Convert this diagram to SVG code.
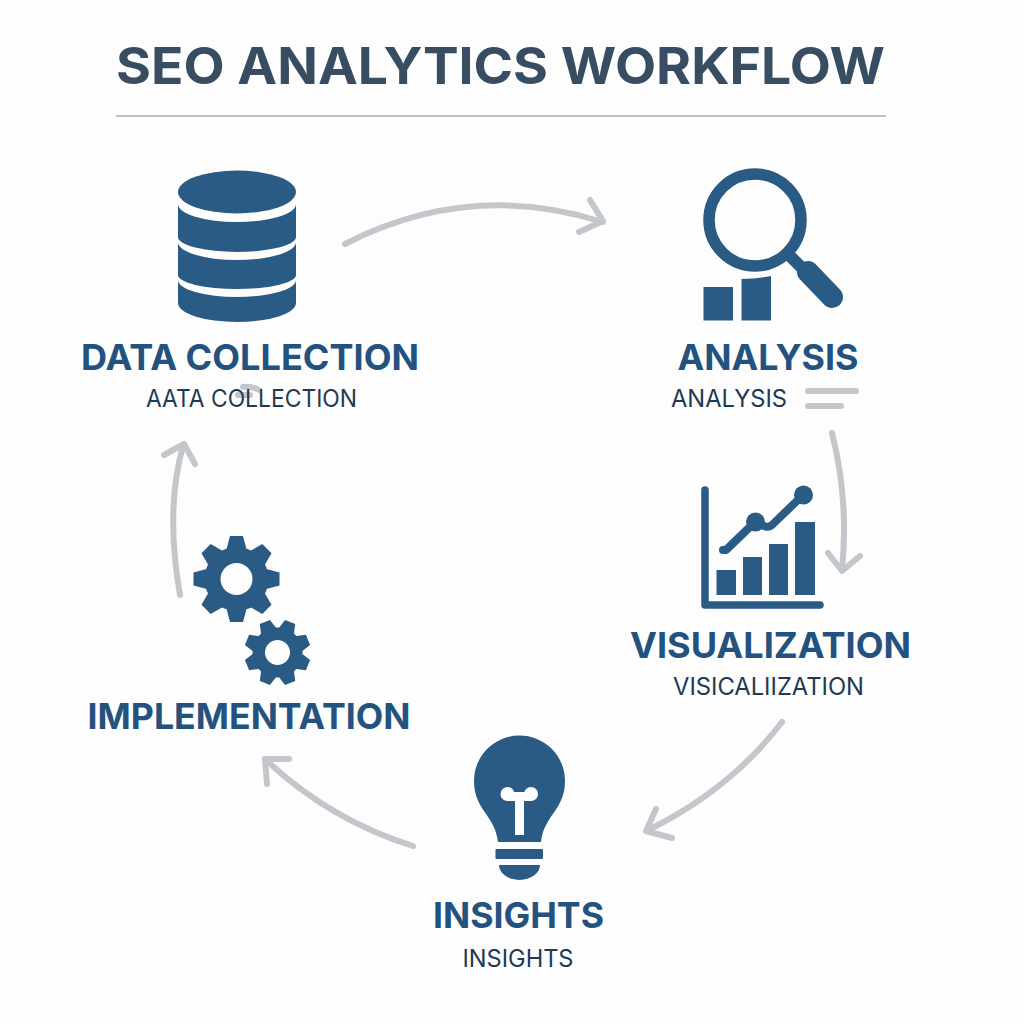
<svg xmlns="http://www.w3.org/2000/svg" xmlns:xlink="http://www.w3.org/1999/xlink" width="1024" height="1024" viewBox="0 0 1024 1024">
<style>
.ic{fill:#2a5b85}
.cut{fill:#fdfdfd}
.ln{fill:none;stroke:#2a5b85;stroke-linecap:round;stroke-linejoin:round}
.c{fill:none;stroke:#c3c7cc;stroke-width:6;stroke-linecap:round;stroke-linejoin:round}
.h{font-family:Inter,"Liberation Sans",sans-serif;font-weight:700;font-size:36px;fill:#24527f;text-anchor:middle}
.s{font-family:Inter,"Liberation Sans",sans-serif;font-weight:400;font-size:24px;fill:#1f3a52;text-anchor:middle}
</style>
<defs>
<polygon id="t1" class="ic" points="-10.500,-28 -6.500,-43 6.500,-43 10.500,-28"/>
<polygon id="t2" class="ic" points="-8.500,-22 -5.500,-33 5.500,-33 8.500,-22"/>
</defs>
<rect width="1024" height="1024" fill="#fdfdfd"/>
<g id="title">
<text x="500.500" y="84" textLength="769" lengthAdjust="spacingAndGlyphs" style="font-family:Inter,'Liberation Sans',sans-serif;font-weight:700;font-size:51px;fill:#384d61;text-anchor:middle">SEO ANALYTICS WORKFLOW</text>
<line x1="116" y1="116" x2="886" y2="116" stroke="#bcc1c8" stroke-width="2"/>
</g>
<g id="connectors">
<path class="c" d="M345,244 Q470,180 603,222"/>
<path class="c" d="M590,200 L603,221 L579,232"/>
<path class="c" d="M832,433 Q849,500 842,570"/>
<path class="c" d="M828,553 L842,571 L860,556"/>
<path class="c" d="M782,722 Q730,790 648,830"/>
<path class="c" d="M656,809 L646,831 L672,838"/>
<path class="c" d="M413,846 Q330,820 266,760"/>
<path class="c" d="M267,784 L265,759 L289,759"/>
<path class="c" d="M180,595 Q165,510 183,446"/>
<path class="c" d="M164,455 L184,444 L195,464"/>
<path class="c" d="M808,391 H856"/>
<path class="c" d="M808,406 H841"/>
<path class="c" d="M243,387 Q252,386 259,390"/>
<path class="c" d="M238,395 H250"/>
</g>
<g id="data-collection">
<ellipse class="ic" cx="237" cy="192" rx="59" ry="21.500"/>
<path class="ic" d="M178,204 A59 18 0 0 0 296,204 V237 A59 15 0 0 1 178,237 Z"/>
<path class="ic" d="M178,242 A59 18 0 0 0 296,242 V275 A59 14 0 0 1 178,275 Z"/>
<path class="ic" d="M178,280 A59 17 0 0 0 296,280 V303 A59 19 0 0 1 178,303 Z"/>
<text class="h" x="250" y="370" textLength="338" lengthAdjust="spacingAndGlyphs">DATA COLLECTION</text>
<text class="s" x="251.500" y="407" textLength="211" lengthAdjust="spacingAndGlyphs">AATA COLLECTION</text>
</g>
<g id="analysis">
<circle class="ln" cx="755" cy="220" r="46" stroke-width="11.500"/>
<line class="ln" x1="790" y1="256" x2="806" y2="272" stroke-width="12"/>
<line class="ln" x1="808" y1="272" x2="832" y2="297" stroke-width="22"/>
<rect class="ic" x="703.500" y="287" width="29.500" height="33.500"/>
<path class="ic" d="M741.500,279 Q757,279 771,276 V320.500 H741.500 Z"/>
<text class="h" x="768" y="370" textLength="181" lengthAdjust="spacingAndGlyphs">ANALYSIS</text>
<text class="s" x="729" y="407" textLength="116" lengthAdjust="spacingAndGlyphs">ANALYSIS</text>
</g>
<g id="visualization">
<path class="ln" d="M705,490 V605 H820" stroke-width="7.500"/>
<rect class="ic" x="716.500" y="570" width="19.500" height="25"/>
<rect class="ic" x="743" y="557" width="19" height="38"/>
<rect class="ic" x="769" y="544" width="19" height="51"/>
<rect class="ic" x="795" y="522" width="20" height="73"/>
<path class="ln" d="M723,550 H726 L755,522 L764,526 Q768,528 772,525 L803,495" stroke-width="8"/>
<circle class="ic" cx="755.500" cy="522" r="9.500"/>
<circle class="ic" cx="803.500" cy="495" r="9.500"/>
<text class="h" x="770.500" y="658" textLength="281" lengthAdjust="spacingAndGlyphs">VISUALIZATION</text>
<text class="s" x="768.500" y="695" textLength="191" lengthAdjust="spacingAndGlyphs">VISICALIIZATION</text>
</g>
<g id="insights">
<path class="ic" d="M498,842 C495,815 474,810 474,781 A45.500 45.500 0 0 1 565,781 C565,810 544,815 541,842 Z"/>
<circle class="cut" cx="507.500" cy="794" r="7"/>
<circle class="cut" cx="531" cy="794" r="7"/>
<rect class="cut" x="507" y="792" width="24" height="9"/>
<rect class="cut" x="515" y="795" width="9" height="40"/>
<rect class="ic" x="495.500" y="849" width="47.500" height="10" rx="1"/>
<path class="ic" d="M499,865 H540 A20.500 15 0 0 1 499,865 Z"/>
<text class="h" x="518.500" y="928" textLength="171" lengthAdjust="spacingAndGlyphs">INSIGHTS</text>
<text class="s" x="518" y="967" textLength="111" lengthAdjust="spacingAndGlyphs">INSIGHTS</text>
</g>
<g id="implementation">
<g transform="translate(236.500,579)">
<circle class="ic" r="32"/>
<use xlink:href="#t1" href="#t1"/>
<use xlink:href="#t1" href="#t1" transform="rotate(45)"/>
<use xlink:href="#t1" href="#t1" transform="rotate(90)"/>
<use xlink:href="#t1" href="#t1" transform="rotate(135)"/>
<use xlink:href="#t1" href="#t1" transform="rotate(180)"/>
<use xlink:href="#t1" href="#t1" transform="rotate(225)"/>
<use xlink:href="#t1" href="#t1" transform="rotate(270)"/>
<use xlink:href="#t1" href="#t1" transform="rotate(315)"/>
<circle class="cut" r="16"/>
</g>
<g transform="translate(277.500,652.500) rotate(22.500)">
<circle class="ic" r="25"/>
<use xlink:href="#t2" href="#t2"/>
<use xlink:href="#t2" href="#t2" transform="rotate(45)"/>
<use xlink:href="#t2" href="#t2" transform="rotate(90)"/>
<use xlink:href="#t2" href="#t2" transform="rotate(135)"/>
<use xlink:href="#t2" href="#t2" transform="rotate(180)"/>
<use xlink:href="#t2" href="#t2" transform="rotate(225)"/>
<use xlink:href="#t2" href="#t2" transform="rotate(270)"/>
<use xlink:href="#t2" href="#t2" transform="rotate(315)"/>
<circle class="cut" r="12.500"/>
</g>
<text class="h" x="249" y="729" textLength="323" lengthAdjust="spacingAndGlyphs">IMPLEMENTATION</text>
</g>
</svg>
